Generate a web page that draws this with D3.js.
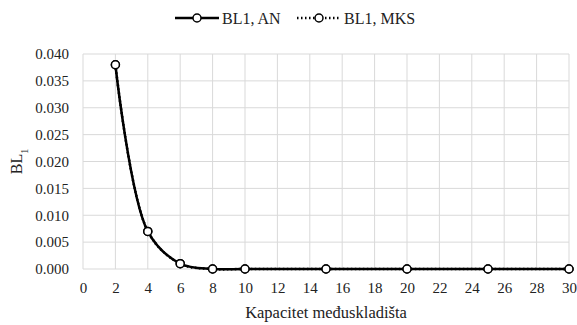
<!DOCTYPE html>
<html>
<head>
<meta charset="utf-8">
<script src="https://cdn.jsdelivr.net/npm/d3@7"></script>
<style>
  body { margin: 0; background: #fff; }
  svg text { font-family: "Liberation Serif", "Times New Roman", "DejaVu Serif", serif; fill: #222; }
</style>
</head>
<body>
<div id="chart"></div>
<script>
// capacities and blocking values
const capacity = [2, 4, 6, 8, 10, 15, 20, 25, 30];
const blAN = [0.038, 0.007, 0.001, 0, 0, 0, 0, 0, 0];
const blMKS = [0.038, 0.007, 0.001, 0, 0, 0, 0, 0, 0];
const xTicks = d3.range(0, 31, 2);
const yTicks = d3.range(0, 0.0401, 0.005);

const W = 577, H = 325;
const margin = {top: 54, right: 8, bottom: 56, left: 83};
const serif = '"Liberation Serif", "Times New Roman", "DejaVu Serif", serif';

const svg = d3.select("#chart")
  .append("svg")
    .attr("width", W)
    .attr("height", H)
    .attr("font-family", serif);

const x = d3.scaleLinear()
    .domain([0, 30])
    .range([margin.left, W - margin.right]);
const y = d3.scaleLinear()
    .domain([0, 0.04])
    .range([H - margin.bottom, margin.top]);

// gridlines
svg.append("g")
  .selectAll("line")
  .data(yTicks)
  .join("line")
    .attr("x1", x(0)).attr("x2", x(30))
    .attr("y1", d => y(d)).attr("y2", d => y(d))
    .attr("stroke", "#d9d9d9");
svg.append("g")
  .selectAll("line")
  .data(xTicks)
  .join("line")
    .attr("x1", d => x(d)).attr("x2", d => x(d))
    .attr("y1", y(0)).attr("y2", y(0.04))
    .attr("stroke", "#d9d9d9");

// axes, labels only
const xAxis = svg.append("g")
    .attr("transform", `translate(0,${y(0)})`)
    .call(d3.axisBottom(x).tickValues(xTicks).tickSize(0).tickPadding(13));
const yAxis = svg.append("g")
    .attr("transform", `translate(${x(0)},0)`)
    .call(d3.axisLeft(y).tickValues(yTicks).tickFormat(d3.format(".3f")).tickSize(0).tickPadding(14));
[xAxis, yAxis].forEach(a => {
  a.attr("font-family", serif).attr("font-size", 15);
  a.select(".domain").remove();
  a.selectAll("text").attr("fill", "#222");
});

// series
const series = [
  {name: "BL1, MKS", values: blMKS, dash: "1.5,2.5"},
  {name: "BL1, AN", values: blAN, dash: null}
];
const line = d3.line()
    .x(d => x(d[0]))
    .y(d => y(d[1]))
    .curve(d3.curveCatmullRom.alpha(0.5));

series.forEach(s => {
  const pts = capacity.map((c, i) => [c, s.values[i]]);
  svg.append("path")
    .datum(pts)
    .attr("fill", "none")
    .attr("stroke", "#000")
    .attr("stroke-width", 2.5)
    .attr("stroke-dasharray", s.dash)
    .attr("d", line);
  svg.append("g")
    .selectAll("circle")
    .data(pts)
    .join("circle")
      .attr("cx", d => x(d[0]))
      .attr("cy", d => y(d[1]))
      .attr("r", 4)
      .attr("fill", "#fff")
      .attr("stroke", "#000")
      .attr("stroke-width", 1.5);
});

// legend
const legend = [
  {name: "BL1, AN", dash: null, x0: 175},
  {name: "BL1, MKS", dash: "1.5,2.5", x0: 297}
];
const lg = svg.append("g").attr("transform", "translate(0,18)");
legend.forEach(l => {
  lg.append("line")
    .attr("x1", l.x0).attr("x2", l.x0 + 44)
    .attr("stroke", "#000")
    .attr("stroke-width", 2.5)
    .attr("stroke-dasharray", l.dash);
  lg.append("circle")
    .attr("cx", l.x0 + 22).attr("r", 4)
    .attr("fill", "#fff").attr("stroke", "#000").attr("stroke-width", 1.5);
  lg.append("text")
    .attr("x", l.x0 + 47).attr("dy", "0.35em")
    .style("font-size", "16px")
    .text(l.name);
});

// axis titles
svg.append("text")
  .attr("x", (x(0) + x(30)) / 2)
  .attr("y", 318)
  .attr("text-anchor", "middle")
  .style("font-size", "16.5px")
  .text("Kapacitet međuskladišta");

const yt = svg.append("text")
  .attr("transform", `translate(22,${(y(0) + y(0.04)) / 2}) rotate(-90)`)
  .attr("text-anchor", "middle")
  .style("font-size", "16px");
yt.append("tspan").text("BL");
yt.append("tspan").attr("baseline-shift", "sub").style("font-size", "10px").text("1");
</script>
</body>
</html>
